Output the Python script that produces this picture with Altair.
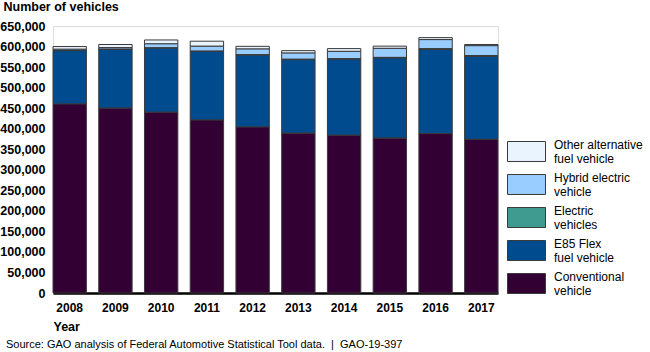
import altair as alt
import pandas as pd

years = ["2008", "2009", "2010", "2011", "2012", "2013", "2014", "2015", "2016", "2017"]
conventional = [460000, 450000, 440000, 421000, 404000, 389000, 384000, 377000, 388000, 374000]
e85_flex = [130000, 143000, 156000, 167000, 175000, 179000, 185000, 195000, 205000, 202000]
electric = [300, 400, 500, 700, 900, 1000, 1200, 1500, 1800, 2000]
hybrid = [3000, 4000, 10000, 12000, 14000, 15000, 18000, 22000, 22000, 24000]
other = [6700, 7600, 9500, 12300, 6600, 6000, 6800, 5500, 4900, 3000]

categories = [
    "Other alternative|fuel vehicle",
    "Hybrid electric|vehicle",
    "Electric|vehicles",
    "E85 Flex|fuel vehicle",
    "Conventional|vehicle",
]
colors = ["#eaf4ff", "#99ccff", "#3f9a8f", "#004b8d", "#330033"]
series = [other, hybrid, electric, e85_flex, conventional]
stack_rank = [4, 3, 2, 1, 0]
y_ticks = list(range(0, 650001, 50000))

rows = []
for cat, vals, rank in zip(categories, series, stack_rank):
    for yr, v in zip(years, vals):
        rows.append({"Year": yr, "Type": cat, "Vehicles": v, "rank": rank})
df = pd.DataFrame(rows)

FONT = "Liberation Sans"

chart = (
    alt.Chart(df)
    .mark_bar(stroke="#3a3a3a", strokeWidth=1)
    .encode(
        x=alt.X(
            "Year:N",
            sort=years,
            scale=alt.Scale(paddingInner=0.27, paddingOuter=0),
            axis=alt.Axis(
                title="Year",
                labelAngle=0,
                labelFont=FONT,
                labelFontSize=12,
                labelFontWeight="bold",
                labelColor="black",
                labelPadding=9,
                ticks=False,
                domainColor="black",
                domainWidth=2.5,
                titleFont=FONT,
                titleFontSize=12.5,
                titleFontWeight="bold",
                titleColor="black",
                titleAlign="left",
                titleAnchor="start",
                titleBaseline="middle",
                titleX=0,
                titleY=33,
            ),
        ),
        y=alt.Y(
            "Vehicles:Q",
            stack="zero",
            scale=alt.Scale(domain=[0, 650000], nice=False),
            axis=alt.Axis(
                title="Number of vehicles",
                values=y_ticks,
                format=",d",
                grid=False,
                domain=False,
                ticks=False,
                labelFont=FONT,
                labelFontSize=12.5,
                labelFontWeight="bold",
                labelColor="black",
                labelPadding=8,
                titleFont=FONT,
                titleFontSize=12.5,
                titleFontWeight="bold",
                titleColor="black",
                titleAngle=0,
                titleAlign="left",
                titleBaseline="middle",
                titleX=-50,
                titleY=-20,
            ),
        ),
        color=alt.Color(
            "Type:N",
            scale=alt.Scale(domain=categories, range=colors),
            legend=alt.Legend(
                title=None,
                orient="none",
                legendX=454,
                legendY=106,
                symbolType="M-1,-0.526H1V0.526H-1Z",
                symbolSize=1444,
                symbolStrokeColor="#3a3a3a",
                symbolStrokeWidth=1,
                symbolOpacity=1,
                labelExpr="split(datum.label, '|')",
                labelFont=FONT,
                labelFontSize=12,
                labelColor="black",
                labelOffset=8,
                labelBaseline="bottom",
                rowPadding=-6,
            ),
        ),
        order=alt.Order("rank:Q", sort="ascending"),
    )
    .properties(
        width=445,
        height=267,
        autosize=alt.AutoSizeParams(type="none"),
        padding={"left": 53, "top": 26, "right": 152, "bottom": 59},
        title=alt.TitleParams(
            "Source: GAO analysis of Federal Automotive Statistical Tool data.\u00a0 |\u00a0 GAO-19-397",
            orient="bottom",
            anchor="start",
            frame="group",
            font=FONT,
            fontSize=11,
            fontWeight="normal",
            color="black",
            dx=-47,
            offset=6,
        ),
    )
    .configure_view(stroke=None)
    .configure(background="white")
)

chart.save("out.html", embed_options={"renderer": "svg", "actions": False})
